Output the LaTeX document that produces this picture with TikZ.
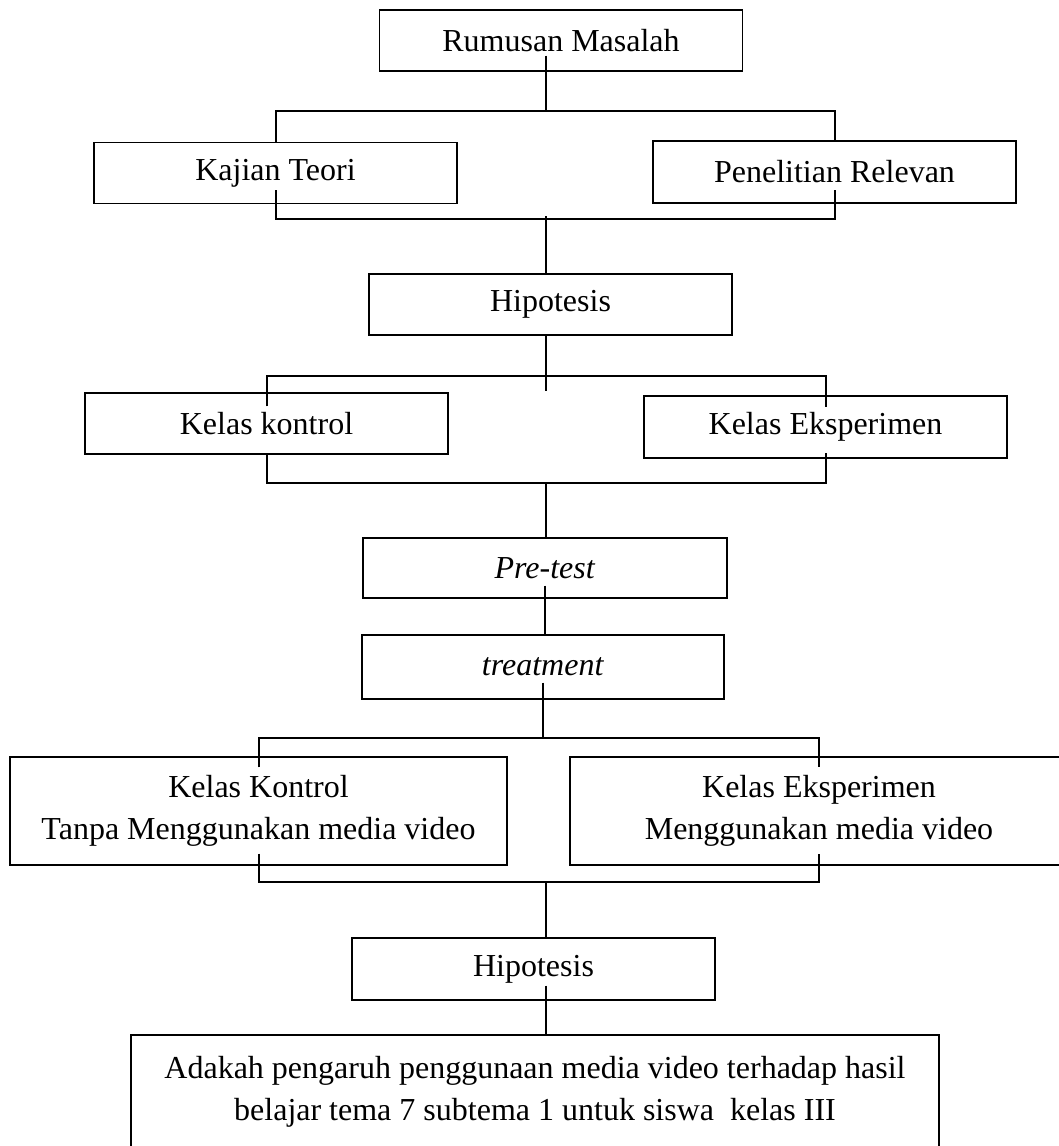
\documentclass[tikz,border=0pt]{standalone}
\usepackage{fontspec}
\setmainfont{Liberation Serif}
\usetikzlibrary{calc}
\begin{document}
\begin{tikzpicture}[x=1pt,y=-1pt,
        box/.style={draw,line width=1.4pt,inner sep=0pt,minimum width=363pt,minimum height=61pt,
            font=\fontsize{32}{42}\selectfont,align=center},
        link/.style={line width=2pt}]
    \useasboundingbox (0,0) rectangle (1059,1146);
    %% boxes
    \node[box] (rm) at (561,40.5) {Rumusan Masalah};
    \node[box] (kt) at (275.5,173) {Kajian Teori};
    \node[box,minimum height=62pt] (pr) at (834.5,172) {Penelitian Relevan};
    \node[box] (hp1) at (550.5,304.5) {Hipotesis};
    \node[box] (kk) at (266.5,423.5) {Kelas kontrol};
    \node[box,minimum height=62pt] (ke) at (825.5,427) {Kelas Eksperimen};
    \node[box,minimum width=364pt,minimum height=60pt] (pt) at (545,568) {\textit{Pre-test}};
    \node[box,minimum width=362pt,minimum height=64pt] (tr) at (543,667) {\textit{treatment}};
    \node[box,minimum width=497pt,minimum height=108pt] (kk2) at (258.5,811) {Kelas Kontrol\\Tanpa Menggunakan media video};
    \node[box,minimum width=498pt,minimum height=108pt] (ke2) at (819,811) {Kelas Eksperimen\\Menggunakan media video};
    \node[box,minimum height=62pt] (hp2) at (533.5,969) {Hipotesis};
    \node[box,minimum width=808pt,minimum height=114pt] (ad) at (535,1092) {Adakah pengaruh penggunaan media video terhadap hasil\\belajar tema 7 subtema 1 untuk siswa~ kelas III};
    %% branch points
    \coordinate (b1) at (546,111);
    \coordinate (b2) at (546,219);
    \coordinate (b3) at (546,376);
    \coordinate (b4) at (546,483);
    \coordinate (b5) at (543,738);
    \coordinate (b6) at (546,882);
    %% connectors
    \draw[link] ($(rm.south -| b1)+(0pt,16pt)$) -- (b1);
    \draw[link] (kt.north) |- (b1) -| (pr.north);
    \draw[link] ($(kt.south)+(0pt,14pt)$) |- (b2) -| ($(pr.south)+(0pt,14pt)$);
    \draw[link] ($(b2)+(0pt,3pt)$) -- (b2 |- hp1.north);
    \draw[link] (hp1.south -| b3) -- ($(b3)+(0pt,-15pt)$);
    \draw[link] ($(kk.north)+(0pt,-14pt)$) |- (b3) -| ($(ke.north)+(0pt,-12pt)$);
    \draw[link] (kk.south) |- (b4) -| ($(ke.south)+(0pt,6pt)$);
    \draw[link] (b4) -- (b4 |- pt.north);
    \draw[link] ($(pt.south)+(0pt,13pt)$) -- (pt.south |- tr.north);
    \draw[link] ($(tr.south)+(0pt,17pt)$) -- (b5);
    \draw[link] ($(kk2.north)+(0pt,-11pt)$) |- (b5) -| ($(ke2.north)+(0pt,-11pt)$);
    \draw[link] ($(kk2.south)+(0pt,12pt)$) |- (b6) -| ($(ke2.south)+(0pt,12pt)$);
    \draw[link] (b6) -- (b6 |- hp2.north);
    \draw[link] ($(hp2.south -| b6)+(0pt,15pt)$) -- (ad.north -| b6);
\end{tikzpicture}
\end{document}
